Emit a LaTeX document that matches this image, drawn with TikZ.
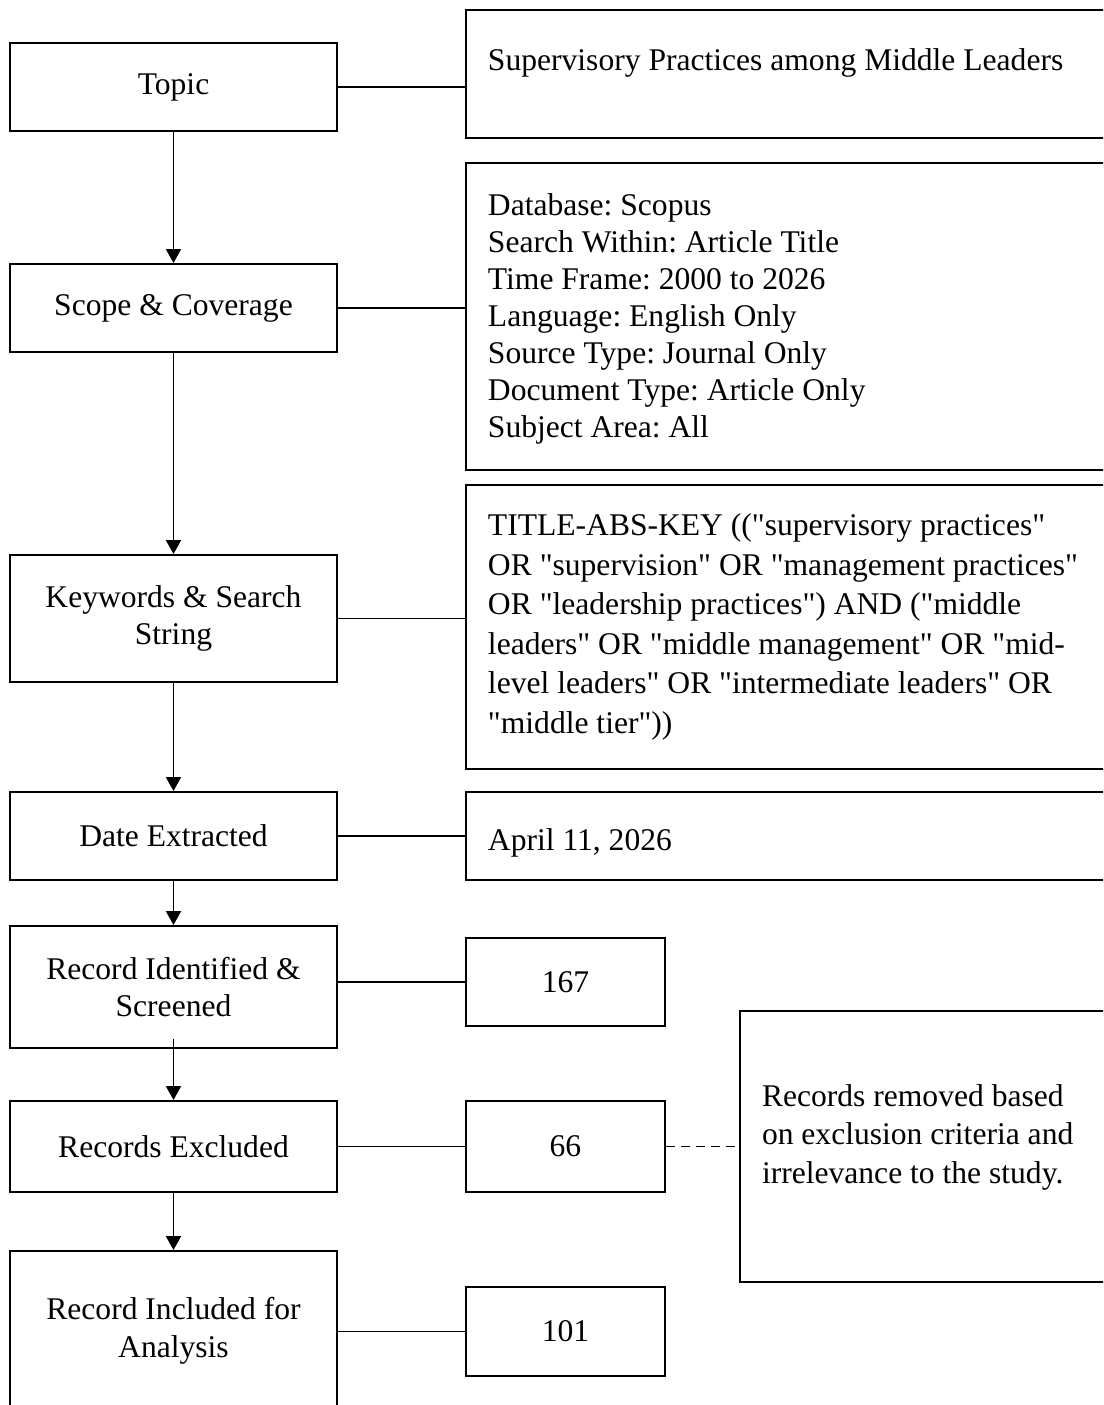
\documentclass[tikz,border=0pt]{standalone}
\usepackage{fontspec}
\setmainfont{Liberation Serif}[Ligatures=TeXOff]
\usepackage{tikz}
\usetikzlibrary{arrows.meta, positioning, calc}
\frenchspacing

\newdimen\px
\px=0.38pt

\begin{document}
\begin{tikzpicture}[x=0.38pt, y=-0.38pt, line width=0.75pt,
    font=\fontsize{12}{14.4}\selectfont,
    stage/.style={draw, minimum width=327\px, align=center, inner sep=0pt, anchor=north},
    infobox/.style={draw, minimum width=700\px, anchor=north west},
    countbox/.style={draw, minimum width=199\px, anchor=north west},
    infotext/.style={anchor=base west, align=left, inner sep=0pt},
    flow/.style={-{Triangle[length=5.3pt, width=5.7pt]}}]

    \useasboundingbox (0,0) rectangle (1103,1405);
    \clip (0,0) rectangle (1103,1405);

    % steps on the left
    \node[stage, minimum height=88\px] (topic) at (173.5,42) {Topic};
    \node[stage, minimum height=88\px] (scope) at (173.5,263) {Scope \& Coverage};
    \node[stage, minimum height=127\px] (keys) at (173.5,554) {Keywords \& Search\\String};
    \node[stage, minimum height=88\px] (date) at (173.5,791) {Date Extracted};
    \node[stage, minimum height=122\px] (ident) at (173.5,925) {Record Identified \&\\Screened};
    \node[stage, minimum height=91\px] (excl) at (173.5,1100) {Records Excluded};
    \node[stage, minimum height=160\px] (incl) at (173.5,1250) {Record Included for\\Analysis};

    % details on the right (text placed by its last baseline)
    \node[infobox, minimum height=128\px] (topicR) at (465,9) {};
    \node[infotext] (topicT) at (487,71) {Supervisory Practices among Middle Leaders};

    \node[infobox, minimum height=307\px] (scopeR) at (465,162) {};
    \node[infotext, font=\fontsize{12}{14}\selectfont] (scopeT) at (487,437)
        {Database: Scopus\\Search Within: Article Title\\Time Frame: 2000 to 2026\\Language: English Only\\Source Type: Journal Only\\Document Type: Article Only\\Subject Area: All};

    \node[infobox, minimum height=284\px] (keysR) at (465,484) {};
    \node[infotext, font=\fontsize{12}{15}\selectfont] (keysT) at (487,733)
        {TITLE-ABS-KEY (("supervisory practices"\\OR "supervision" OR "management practices"\\OR "leadership practices") AND ("middle\\leaders" OR "middle management" OR "mid-\\level leaders" OR "intermediate leaders" OR\\"middle tier"))};

    \node[infobox, minimum height=88\px] (dateR) at (465,791) {};
    \node[infotext] (dateT) at (487,850) {April 11, 2026};

    % record counts
    \node[countbox, minimum height=88\px] (n167) at (465,937) {167};
    \node[countbox, minimum height=91\px] (n66) at (465,1100) {66};
    \node[countbox, minimum height=89\px] (n101) at (465,1286) {101};

    % exclusion note
    \node[infobox, minimum height=271\px] (noteR) at (739,1010) {};
    \node[infotext, font=\fontsize{12}{14.6}\selectfont] (noteT) at (761,1183)
        {Records removed based\\on exclusion criteria and\\irrelevance to the study.};

    % arrows down the left column
    \draw[flow] (topic) -- (scope);
    \draw[flow] (scope) -- (keys);
    \draw[flow] (keys) -- (date);
    \draw[flow] (date) -- (ident);
    \draw[flow] ([yshift=10\px]ident.south) -- (excl);
    \draw[flow] (excl) -- (incl);

    % links to the right
    \draw (topic.east) -- (topic.east -| topicR.west);
    \draw (scope.east) -- (scope.east -| scopeR.west);
    \draw (keys.east) -- (keys.east -| keysR.west);
    \draw (date) -- (dateR);
    \draw (n167.west -| ident.east) -- (n167);
    \draw (excl) -- (n66);
    \draw (n101.west -| incl.east) -- (n101);
    \draw[dash pattern=on 3.4pt off 2.3pt] (n66) -- (n66 -| noteR.west);

\end{tikzpicture}
\end{document}
